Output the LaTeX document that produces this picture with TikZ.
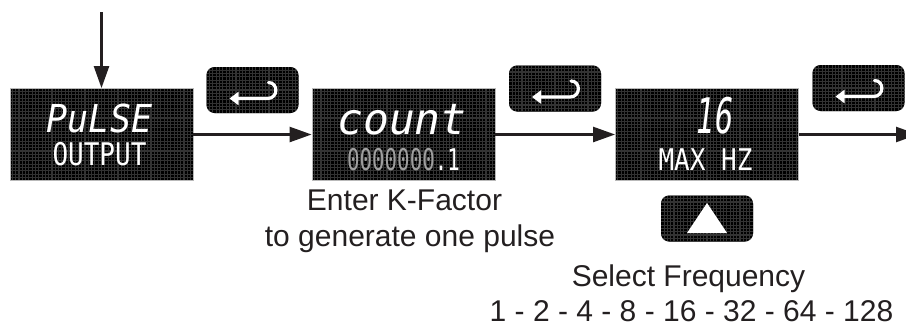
\documentclass[tikz,border=0pt]{standalone}
\usepackage{graphicx}
\usepackage{fontspec}
\setmainfont{Liberation Sans}
\newfontfamily\lcdfont{DejaVu Sans Mono}
\usetikzlibrary{arrows.meta}
\definecolor{ink}{HTML}{231F20}
\tikzset{
  lcdbg/.style={fill=black, path picture={\draw[gray!40!black, line width=1.1pt]
      ([shift={(-2pt,-2pt)}]path picture bounding box.south west) grid[step=3.3pt]
      ([shift={(2pt,2pt)}]path picture bounding box.north east);}},
  display/.style={lcdbg, draw=gray!55, line width=0.8pt, minimum width=183pt, minimum height=92pt, inner sep=0pt},
  keybox/.style={lcdbg, rounded corners=8pt, minimum width=92pt, minimum height=46pt, inner sep=0pt},
  flow/.style={draw=ink, line width=2.4pt, -{Triangle[length=22pt,width=15pt]}},
  captext/.style={text=ink, font=\fontsize{30}{34}\selectfont, anchor=base, inner sep=0pt, text depth=0pt},
  lcd/.style={text=white, anchor=base, inner sep=0pt},
  enterkey/.pic={\draw[white, line width=3.2pt, line cap=round, -{Triangle[length=9pt,width=13pt]}]
      (16,-7.5) .. controls (26,-7.5) and (26,8.5) .. (15,8.5) -- (-23,8.5);},
  upkey/.pic={\fill[white] (0,-15.5) -- (20,14.5) -- (-20,14.5) -- cycle;}
}
\begin{document}
\begin{tikzpicture}[x=1pt,y=-1pt]
\useasboundingbox (0,0) rectangle (906,327);
% displays
\node[display] (d1) at (101.5,134.5) {};
\node[display] (d2) at (403.5,134.5) {};
\node[display] (d3) at (707,134.5) {};
% keys
\node[keybox] (b1) at (252.5,90) {};
\node[keybox] (b2) at (555,88.5) {};
\node[keybox] (b3) at (858.5,88) {};
\node[keybox] (b4) at (707,218.5) {};
\pic at (b1.center) {enterkey};
\pic at (b2.center) {enterkey};
\pic at (b3.center) {enterkey};
\pic at (b4.center) {upkey};
% display texts
\node[lcd, font=\lcdfont\itshape\fontsize{35}{35}\selectfont] (t1a) at (99.5,132) {\scalebox{1}[1.1]{PuLSE}};
\node[lcd, font=\lcdfont\fontsize{26}{26}\selectfont] (t1b) at (99.5,165) {\scalebox{1}[1.2]{OUTPUT}};
\node[lcd, font=\lcdfont\itshape\fontsize{43}{43}\selectfont] (t2a) at (402,134) {count};
\node[lcd, font=\lcdfont\fontsize{26}{26}\selectfont] (t2b) at (403.5,170) {\scalebox{0.8}[1.15]{\textcolor{gray!75}{0000000}.1}};
\node[lcd, font=\lcdfont\itshape\fontsize{49}{49}\selectfont] (t3a) at (715,133) {\scalebox{0.62}[1]{16}};
\node[lcd, font=\lcdfont\fontsize{26}{26}\selectfont] (t3b) at (705.5,170) {\scalebox{1}[1.15]{MAX HZ}};
% connectors
\coordinate (start) at (101.5,12);
\coordinate (out) at (918,134.5);
\draw[flow] (start) -- (d1.north);
\draw[flow] (d1.east) -- (d2.west);
\draw[flow] (d2.east) -- (d3.west);
\draw[flow] (d3.east) -- (out);
% captions
\node[captext] (l1) at (404.5,210) {Enter K-Factor};
\node[captext] (l2) at (410,246) {to generate one pulse};
\node[captext] (l3) at (688.5,286) {Select Frequency};
\node[captext] (l4) at (691.5,321) {1 - 2 - 4 - 8 - 16 - 32 - 64 - 128};
\end{tikzpicture}
\end{document}
